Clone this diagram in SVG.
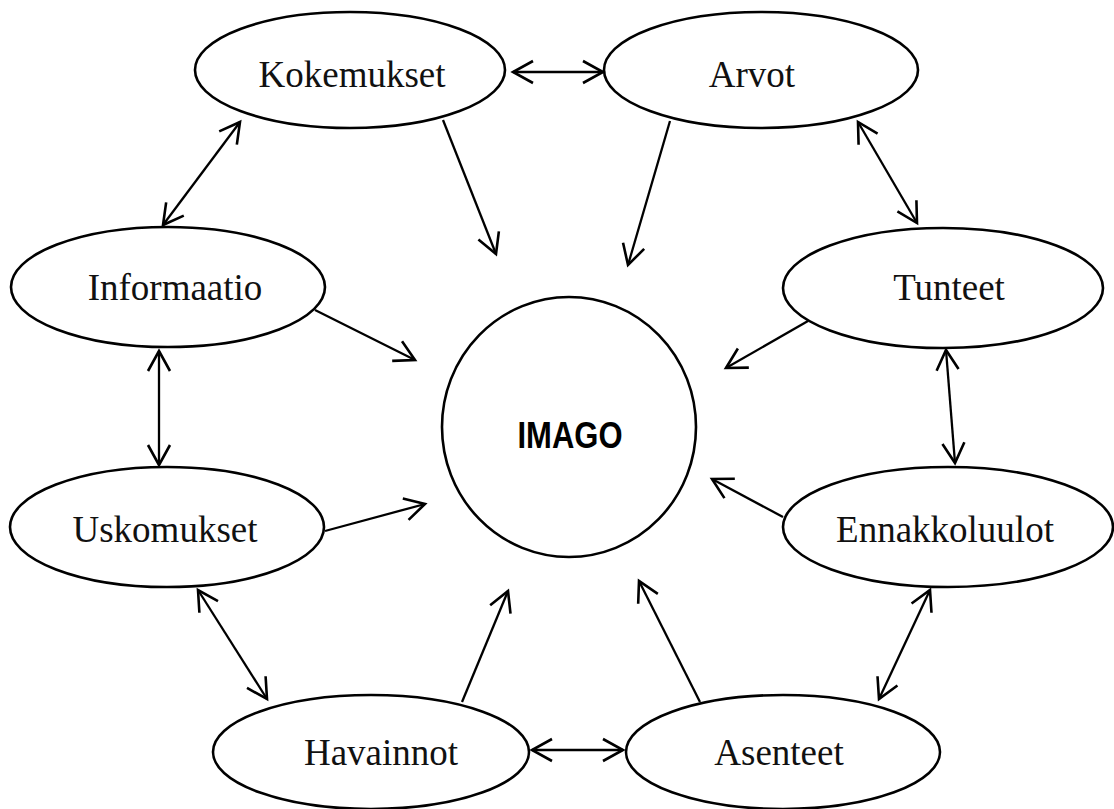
<svg xmlns="http://www.w3.org/2000/svg" width="1114" height="809" viewBox="0 0 1114 809">
<style>
.node ellipse{fill:#fff;stroke:#000;stroke-width:2.6}
.lbl{font-family:"Liberation Serif","Times New Roman",serif;font-size:37px;fill:#111;text-anchor:middle}
.core{font-family:"Liberation Sans Narrow","Liberation Sans",sans-serif;font-weight:bold;font-size:37px;fill:#000;text-anchor:middle}
#connectors line{stroke:#000;stroke-width:2.3;fill:none}
.one{marker-end:url(#ah)}
.two{marker-start:url(#ah);marker-end:url(#ah)}
</style>
<defs>
<marker id="ah" markerUnits="userSpaceOnUse" viewBox="-24 -14 28 28" refX="0" refY="0" markerWidth="28" markerHeight="28" orient="auto-start-reverse">
<path d="M-20,-11 L0,0 L-20,11" fill="none" stroke="#000" stroke-width="2.6"/>
</marker>
</defs>
<rect width="1114" height="809" fill="#fff"/>
<g id="n-imago" class="node"><ellipse cx="569" cy="427" rx="127" ry="130"/><text class="core" x="570" y="448" textLength="105" lengthAdjust="spacingAndGlyphs">IMAGO</text></g>
<g id="n-kokemukset" class="node"><ellipse cx="350" cy="70" rx="155" ry="58"/><text class="lbl" x="352" y="87">Kokemukset</text></g>
<g id="n-arvot" class="node"><ellipse cx="761" cy="70" rx="157" ry="58"/><text class="lbl" x="752" y="87">Arvot</text></g>
<g id="n-informaatio" class="node"><ellipse cx="168" cy="287" rx="157" ry="60"/><text class="lbl" x="175" y="300">Informaatio</text></g>
<g id="n-tunteet" class="node"><ellipse cx="943" cy="288" rx="160" ry="60"/><text class="lbl" x="949" y="300">Tunteet</text></g>
<g id="n-uskomukset" class="node"><ellipse cx="167" cy="527" rx="157" ry="60"/><text class="lbl" x="165" y="542">Uskomukset</text></g>
<g id="n-ennakkoluulot" class="node"><ellipse cx="948" cy="527" rx="165" ry="60"/><text class="lbl" x="945" y="542">Ennakkoluulot</text></g>
<g id="n-havainnot" class="node"><ellipse cx="371" cy="752" rx="158" ry="57"/><text class="lbl" x="381" y="765">Havainnot</text></g>
<g id="n-asenteet" class="node"><ellipse cx="783" cy="752" rx="157" ry="57"/><text class="lbl" x="779" y="765">Asenteet</text></g>
<g id="connectors">
<line class="two" x1="513" y1="72" x2="603" y2="72"/>
<line class="one" x1="443" y1="120" x2="496" y2="254"/>
<line class="one" x1="670" y1="121" x2="628" y2="265"/>
<line class="two" x1="240" y1="122" x2="163" y2="225"/>
<line class="two" x1="858" y1="122" x2="917" y2="223"/>
<line class="one" x1="315" y1="310" x2="415" y2="360"/>
<line class="one" x1="808" y1="321" x2="726" y2="368"/>
<line class="two" x1="159" y1="351" x2="159" y2="465"/>
<line class="two" x1="946" y1="350" x2="955" y2="463"/>
<line class="one" x1="325" y1="531" x2="425" y2="504"/>
<line class="one" x1="783" y1="517" x2="712" y2="479"/>
<line class="two" x1="198" y1="590" x2="267" y2="699"/>
<line class="two" x1="930" y1="590" x2="879" y2="699"/>
<line class="one" x1="462" y1="702" x2="508" y2="591"/>
<line class="one" x1="700" y1="702" x2="639" y2="581"/>
<line class="two" x1="532" y1="750" x2="623" y2="750"/>
</g>
</svg>
